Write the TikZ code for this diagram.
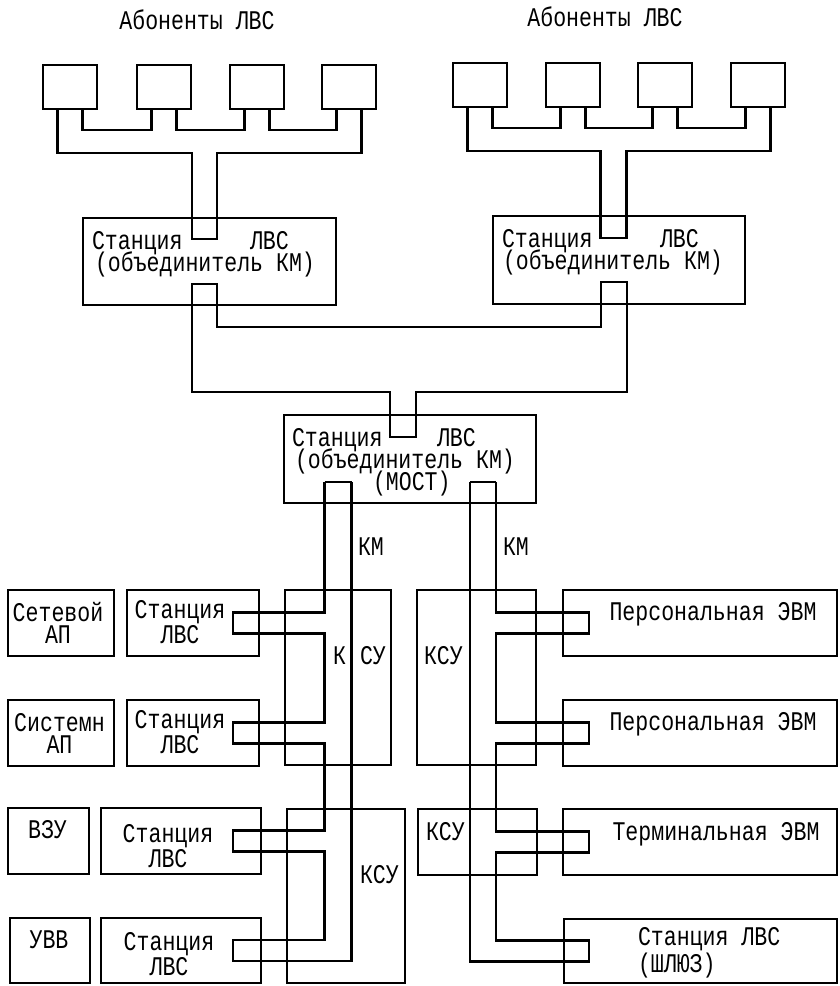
\documentclass[tikz,border=0pt]{standalone}
\usepackage{fontspec}
\newfontfamily\tw[FakeStretch=0.8]{Liberation Mono}
\usetikzlibrary{calc}

\begin{document}
\begin{tikzpicture}[x=0.03cm, y=-0.03cm,
    every node/.style={font=\tw\fontsize{23}{18.7}\selectfont, inner sep=0pt, outer sep=0pt},
    frame/.style={draw, line width=1.9pt},
    dims/.style 2 args={minimum width=#1*0.03cm, minimum height=#2*0.03cm},
    lbl/.style={anchor=base, align=center},
    lblw/.style={anchor=base west, align=left},
    bus/.style={line width=1.9pt, line join=miter}]
  \useasboundingbox (0,0) rectangle (839,986);
  \fill[white] (0,0) rectangle (839,986);

  % Subscribers
  \node[lbl] (abl) at (197,30) {Абоненты ЛВС};
  \node[lbl] (abr) at (605,27) {Абоненты ЛВС};
  \foreach \x [count=\i] in {70,164,257,349}
    \node[frame, dims={54}{44}] (al\i) at (\x,87) {};
  \foreach \x [count=\i] in {480,573,665,758}
    \node[frame, dims={54}{44}] (ar\i) at (\x,85) {};

  % Stations (combiners)
  \node[frame, dims={253}{87}] (sl) at (209.5,261.5) {};
  \node[lblw] (sl1) at (92,249) {Станция};
  \node[lblw] (sl2) at (250,249) {ЛВС};
  \node[lblw] (sl3) at (95,271) {(объединитель КМ)};
  \node[frame, dims={252}{88}] (sr) at (619,260) {};
  \node[lblw] (sr1) at (502,247) {Станция};
  \node[lblw] (sr2) at (660,247) {ЛВС};
  \node[lblw] (sr3) at (503,269) {(объединитель КМ)};
  \node[frame, dims={252}{88}] (sm) at (410,459) {};
  \node[lblw] (sm1) at (292,446) {Станция};
  \node[lblw] (sm2) at (437,446) {ЛВС};
  \node[lblw] (sm3) at (295,468) {(объединитель КМ)};
  \node[lblw] (sm4) at (373,490) {(МОСТ)};

  % Upper rings
  \draw[bus] ($(al1.south)+(-12.5,0)$) -- ++(0,44) -| ($(sl.north)+(-17.5,21)$)
    -- ++(25,0) -- ++(0,-86) -| ($(al4.south)+(12.5,0)$);
  \foreach \i/\j in {1/2,2/3,3/4}
    \draw[bus] ($(al\i.south)+(12.5,0)$) -- ++(0,21) -| ($(al\j.south)+(-12.5,0)$);
  \draw[bus] ($(ar1.south)+(-12.5,0)$) -- ++(0,44) -| ($(sr.north)+(-18.5,22)$)
    -- ++(26,0) -- ++(0,-87) -| ($(ar4.south)+(12.5,0)$);
  \foreach \i/\j in {1/2,2/3,3/4}
    \draw[bus] ($(ar\i.south)+(12.5,0)$) -- ++(0,21) -| ($(ar\j.south)+(-12.5,0)$);

  % Ring to the bridge
  \draw[bus] ($(sl.south)+(-17.5,-21)$) -- ++(0,108) -| ($(sm.north)+(-20,22)$)
    -- ++(26,0) -- ++(0,-45) -| ($(sr.south)+(8,-22)$) -- ++(-26,0) -- ++(0,45)
    -| ($(sl.south)+(7.5,-21)$) -- cycle;

  % Left column
  \node[frame, dims={106}{66}] (ap1) at (61,623) {};
  \node[lbl] (ap1t) at (58,643) {Сетевой\\АП};
  \node[frame, dims={132}{66}] (ls1) at (193,623) {};
  \node[lbl] (ls1t) at (180,643) {Станция\\ЛВС};
  \node[frame, dims={106}{66}] (ap2) at (61,733) {};
  \node[lbl] (ap2t) at (59.5,753) {Системн\\АП};
  \node[frame, dims={132}{66}] (ls2) at (193,733) {};
  \node[lbl] (ls2t) at (180,753) {Станция\\ЛВС};
  \node[frame, dims={81}{66}] (vzu) at (48.5,841) {};
  \node[lbl] (vzut) at (47.5,838) {ВЗУ};
  \node[frame, dims={160}{66}] (ls3) at (181,841) {};
  \node[lbl] (ls3t) at (168,867) {Станция\\ЛВС};
  \node[frame, dims={80}{65}] (uvv) at (50,950.5) {};
  \node[lbl] (uvvt) at (49,948) {УВВ};
  \node[frame, dims={160}{65}] (ls4) at (181,950.5) {};
  \node[lbl] (ls4t) at (169,975) {Станция\\ЛВС};

  % Channel switching units
  \node[frame, dims={106}{175}] (k1) at (338,677.5) {};
  \node[lblw] (k1a) at (333,664) {К};
  \node[lblw] (k1b) at (360,664) {СУ};
  \node[frame, dims={118}{174}] (k2) at (346,896) {};
  \node[lblw] (k2t) at (360,883) {КСУ};
  \node[frame, dims={119}{175}] (k3) at (476.5,677.5) {};
  \node[lblw] (k3t) at (424,664) {КСУ};
  \node[frame, dims={119}{66}] (k4) at (477.5,842) {};
  \node[lblw] (k4t) at (426,840) {КСУ};

  % Right column
  \node[frame, dims={274}{66}] (pc1) at (700,623) {};
  \node[lbl] (pc1t) at (713,620) {Персональная ЭВМ};
  \node[frame, dims={274}{66}] (pc2) at (700,733) {};
  \node[lbl] (pc2t) at (713,730) {Персональная ЭВМ};
  \node[frame, dims={274}{66}] (tm) at (700,842) {};
  \node[lbl] (tmt) at (716,840) {Терминальная ЭВМ};
  \node[frame, dims={273}{64}] (gw) at (700.5,951) {};
  \node[lblw] (gwt) at (638,972) {Станция ЛВС\\(ШЛЮЗ)};

  % Lower rings
  \coordinate (bl1) at ($(sm.south)+(-85.5,-21)$);
  \coordinate (bl2) at ($(sm.south)+(-58.5,-21)$);
  \coordinate (br1) at ($(sm.south)+(60,-21)$);
  \coordinate (br2) at ($(sm.south)+(86,-21)$);
  \draw[bus] (bl1) -- (bl2);
  \draw[bus] (br1) -- (br2);
  \node[lblw] (kml) at (358,555) {КМ};
  \node[lblw] (kmr) at (503,555) {КМ};
  \draw[bus] (bl1) |- ($(bl1 |- ls1.east)+(-91.5,-10.5)$) -- ++(0,21)
    -| ($(bl1 |- ls2.east)+(0,-10.5)$) -- ++(-91.5,0) -- ++(0,21)
    -| ($(bl1 |- ls3.east)+(0,-10.5)$) -- ++(-91.5,0) -- ++(0,21)
    -| ($(bl1 |- ls4.east)+(0,-10.5)$) -- ++(-91.5,0) -- ++(0,21) -| (bl2);
  \draw[bus] (br2) |- ($(br2 |- pc1.west)+(93,-10.5)$) -- ++(0,21)
    -| ($(br2 |- pc2.west)+(0,-10.5)$) -- ++(93,0) -- ++(0,21)
    -| ($(br2 |- tm.west)+(0,-10.5)$) -- ++(93,0) -- ++(0,21)
    -| ($(br2 |- gw.west)+(0,-10.5)$) -- ++(93,0) -- ++(0,21) -| (br1);
\end{tikzpicture}
\end{document}
